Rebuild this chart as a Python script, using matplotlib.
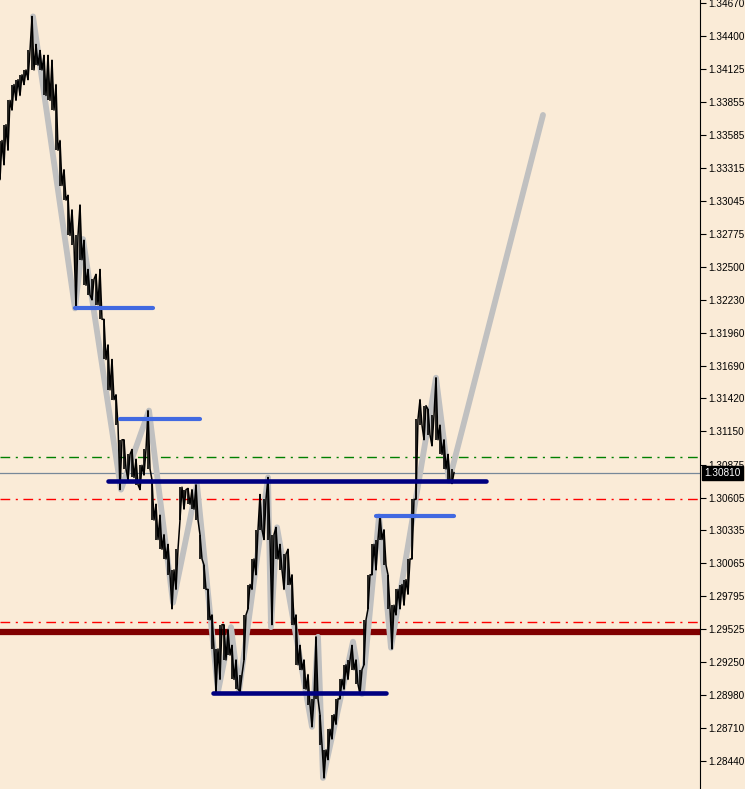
import numpy as np
import matplotlib.pyplot as plt

plt.rcParams['font.family'] = ['Liberation Sans', 'DejaVu Sans']

# bar highs / lows (one bar every 4 px of the chart)
bar_high = [1.3354, 1.3367, 1.3387, 1.3400, 1.3404, 1.3408, 1.3412, 1.3428, 1.3456, 1.3433,
            1.3428, 1.3424, 1.3424, 1.3420, 1.3400, 1.3354, 1.3330, 1.3309, 1.3297, 1.3276,
            1.3301, 1.3272, 1.3248, 1.3240, 1.3244, 1.3248, 1.3207, 1.3186, 1.3174, 1.3145,
            1.3108, 1.3108, 1.3096, 1.3100, 1.3092, 1.3087, 1.3100, 1.3132, 1.3075, 1.3055,
            1.3046, 1.3030, 1.3022, 1.3001, 1.3018, 1.3069, 1.3067, 1.3068, 1.3067, 1.3071,
            1.3030, 1.3005, 1.2985, 1.2964, 1.2936, 1.2956, 1.2956, 1.2952, 1.2939, 1.2927,
            1.2915, 1.2964, 1.2989, 1.3010, 1.3034, 1.3063, 1.3059, 1.3077, 1.3030, 1.3036,
            1.3022, 1.3014, 1.3018, 1.2997, 1.2964, 1.2939, 1.2927, 1.2915, 1.2895, 1.2946,
            1.2882, 1.2853, 1.2870, 1.2882, 1.2895, 1.2911, 1.2923, 1.2927, 1.2939, 1.2927,
            1.2919, 1.2960, 1.2997, 1.3022, 1.3026, 1.3046, 1.3034, 1.2997, 1.2972, 1.2985,
            1.2989, 1.2993, 1.3010, 1.3059, 1.3125, 1.3141, 1.3136, 1.3133, 1.3128, 1.3159,
            1.3120, 1.3108, 1.3096, 1.3084]
bar_low = [1.3322, 1.3334, 1.3346, 1.3379, 1.3387, 1.3391, 1.3400, 1.3404, 1.3412, 1.3416,
           1.3412, 1.3391, 1.3387, 1.3379, 1.3346, 1.3317, 1.3305, 1.3276, 1.3268, 1.3216,
           1.3256, 1.3235, 1.3227, 1.3223, 1.3219, 1.3207, 1.3174, 1.3149, 1.3141, 1.3120,
           1.3067, 1.3084, 1.3075, 1.3077, 1.3071, 1.3067, 1.3079, 1.3084, 1.3042, 1.3026,
           1.3018, 1.3010, 1.2997, 1.2969, 1.2985, 1.3042, 1.3051, 1.3055, 1.3051, 1.3042,
           1.3010, 1.2985, 1.2960, 1.2936, 1.2901, 1.2911, 1.2927, 1.2931, 1.2911, 1.2903,
           1.2901, 1.2927, 1.2969, 1.2985, 1.2997, 1.3034, 1.3026, 1.3026, 1.2956, 1.3010,
           1.3001, 1.2985, 1.2989, 1.2956, 1.2923, 1.2919, 1.2903, 1.2890, 1.2872, 1.2895,
           1.2857, 1.2830, 1.2845, 1.2862, 1.2874, 1.2895, 1.2903, 1.2911, 1.2919, 1.2907,
           1.2899, 1.2923, 1.2969, 1.2997, 1.3001, 1.3026, 1.3005, 1.2969, 1.2936, 1.2964,
           1.2969, 1.2972, 1.2981, 1.3010, 1.3059, 1.3120, 1.3108, 1.3112, 1.3103, 1.3108,
           1.3096, 1.3084, 1.3075, 1.3072]
last_price = 1.30810

# zigzag (bar index, price)
zz_bar = [8.25, 18.75, 20.75, 30.25, 37.25, 43.25, 49.25, 54.5, 57.75, 59.75, 67, 67.75,
          69.25, 78, 79.5, 80.75, 88.25, 90.5, 94.75, 97.75, 109, 112.25, 135.75]
zz_price = [1.3456, 1.3216, 1.3273, 1.3067, 1.3132, 1.2974, 1.3071, 1.2901, 1.2954, 1.2901,
            1.3077, 1.2954, 1.3036, 1.2872, 1.2946, 1.2830, 1.2942, 1.2899, 1.3045, 1.2937,
            1.3159, 1.3074, 1.3375]

# level segments: (price, start bar, end bar)
navy_levels = [(1.3074, 27, 121.5), (1.2900, 53.25, 96.5)]
blue_levels = [(1.3216, 18.75, 38.25), (1.3125, 30, 50), (1.3045, 94, 113.5)]
green_dd = 1.3094
red_dd = [1.3059, 1.2958]
maroon_level = 1.2950

yticks = [1.34670, 1.34400, 1.34125, 1.33855, 1.33585, 1.33315, 1.33045, 1.32775, 1.32500,
          1.32230, 1.31960, 1.31690, 1.31420, 1.31150, 1.30875, 1.30605, 1.30335, 1.30065,
          1.29795, 1.29525, 1.29250, 1.28980, 1.28710, 1.28440]

bg = '#faebd7'
fig = plt.figure(figsize=(7.45, 7.89), dpi=100, facecolor=bg)
ax = fig.add_axes([0, 0, 700/745, 1], facecolor=bg)

# horizontal lines
ax.axhline(green_dd, color='green', lw=1, ls=(0, (7, 4, 1.5, 4)))
for p in red_dd:
    ax.axhline(p, color='red', lw=1, ls=(0, (7, 4, 1.5, 4)))
ax.axhline(maroon_level, color='#800000', lw=4.5)
ax.axhline(last_price, color='#778899', lw=0.9)

# zigzag
ax.plot(zz_bar, zz_price, color='#c0c0c0', lw=4.2, solid_capstyle='round',
        solid_joinstyle='round', zorder=3)

# price line
n = len(bar_high)
xs, ys = [], []
for i in range(n):
    mid = (bar_high[i] + bar_low[i]) / 2
    nxt = (bar_high[i+1] + bar_low[i+1]) / 2 if i < n - 1 else last_price
    if nxt < mid:
        ys += [bar_high[i], bar_low[i]]
    else:
        ys += [bar_low[i], bar_high[i]]
    xs += [i, i + 0.5]
ys[-1] = last_price
ax.vlines(range(n), bar_low, bar_high, color='black', lw=1.2, zorder=4)
ax.plot(xs, ys, color='black', lw=1.1, zorder=4)

# levels
for p, a, b in navy_levels:
    ax.plot([a, b], [p, p], color='#000080', lw=3.3, solid_capstyle='round', zorder=5)
for p, a, b in blue_levels:
    ax.plot([a, b], [p, p], color='#4169e1', lw=3.0, solid_capstyle='round', zorder=5)

ax.set_xlim(0, 175)
ax.set_ylim(1.28209, 1.34695)
ax.set_xticks([])
ax.yaxis.tick_right()
ax.set_yticks(yticks)
ax.set_yticklabels(['%.5f' % t for t in yticks])
ax.tick_params(axis='y', direction='out', length=4, width=0.8, colors='black',
               labelsize=7.2, pad=2)
for s in ['top', 'left', 'bottom']:
    ax.spines[s].set_visible(False)
ax.spines['right'].set_color('black')

# current price tag
ax.text(1.006, last_price, '1.30810', transform=ax.get_yaxis_transform(),
        color='white', fontsize=7.2, va='center', ha='left', zorder=10,
        bbox=dict(boxstyle='square,pad=0.2', fc='black', ec='black'), clip_on=False)

fig.savefig('out.png', dpi=100, facecolor=bg)
